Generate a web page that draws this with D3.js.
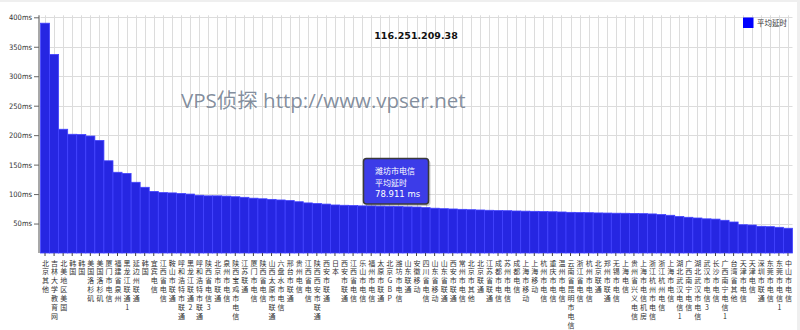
<!DOCTYPE html>
<html><head><meta charset="utf-8">
<script src="https://cdn.jsdelivr.net/npm/d3@7"></script>
<style>
html,body{margin:0;padding:0;background:#fff;}
svg{display:block;}
</style></head>
<body>
<svg id="chart" width="800" height="330"></svg>
<script>
const title = "116.251.209.38";
const seriesName = "平均延时";
const watermark = "VPS侦探 http://www.vpser.net";
const categories = [
"北京其他","吉林大学教育网","北美地区美国","韩国","韩国","美国洛杉矶","美国洛杉矶","厦门市电信","福建省泉州","黑龙江联通1",
"延边州联通","韩国","宜宾电信","江西省电信","鞍山市联通","呼和浩特市联通","黑龙江联通2","呼和浩特市联通",
"陕西省电信3","北京市联通","泉州市电信","陕西宝鸡市电信","江苏联通","厦门市电信","陕西省电信","山西太原市联通","六盘水市电信","邢台市联通",
"贵州电信","江西省电信","陕西西安市联通","西安市联通","日本","西安市联通","江西省电信","乐山市电信","福州市电信","太原市联通","北京GBP","潍坊市电信",
"山东联通","安徽移动","四川省电信","山东省移动","山东省联通","西安市联通","常州市电信","北京市其他","北京联通","江苏省联通",
"成都市电信","苏州市电信","成都电信","上海市移动","上海移动","杭州市电信","重庆市电信","温州市电信","云南省昆明市电信","浙江省电信","杭州市电信","北京联通",
"郑州市联通","无锡市电信","上海电信","贵州省兴义电信","上海市电信机房","浙江杭州市电信","浙江杭州电信","上海市电信","湖北武汉电信1","广西南宁电信",
"湖北武汉市电信","武汉市电信3","长沙市电信","广西南宁电信1","台湾省其他","天津市电信","天津电信","深圳市联通","东莞市电信","东莞市电信1","中山市电信"
];
const latency = [
390,337,210,201.5,201,198.5,191,156.5,137,135,
120,111.5,104.5,102.5,102,101,100,98,
97,97,96.5,95.5,94.5,93,92,91,90,89,
87,85,84,83,81.5,81,80.5,80,79.8,79.5,79.2,78.911,
78.3,78,77,76,75.2,74.7,74.1,73.5,73,72.5,
72,71.8,71.3,71,70.7,70.3,70,69.6,69,68.6,68.4,68,
67.8,67.5,67.4,67.2,66.8,66.3,65.2,64,62,60.6,
59.4,58,57.5,55.5,52.6,48,47.5,45.3,44.7,43.6,42
];
const yTicks = [50,100,150,200,250,300,350,400];
const tooltipIndex = 39;

const svg = d3.select("#chart");
const W = 800, H = 330;
const pLeft = 40.5, pRight = 792.5, pTop = 17.3, pBottom = 253;

// frame strips
svg.append("rect").attr("x",0).attr("y",0).attr("width",W).attr("height",2).attr("fill","#efefef");
svg.append("rect").attr("x",W-3).attr("y",0).attr("width",3).attr("height",H).attr("fill","#efefef");

const x = d3.scaleBand().domain(d3.range(categories.length)).range([pLeft, pRight]).padding(0);
const y = d3.scaleLinear().domain([0,400]).range([pBottom, pTop]);

// grid
const grid = svg.append("g");
grid.selectAll("line.h").data(yTicks).join("line")
  .attr("x1", pLeft).attr("x2", pRight)
  .attr("y1", d=>Math.round(y(d))+0.5).attr("y2", d=>Math.round(y(d))+0.5)
  .attr("stroke","#dcdcdc").attr("stroke-width",1);
grid.selectAll("line.v").data(d3.range(categories.length)).join("line")
  .attr("x1", d=>Math.round(x(d)+x.bandwidth()/2)+0.5).attr("x2", d=>Math.round(x(d)+x.bandwidth()/2)+0.5)
  .attr("y1", pTop-2).attr("y2", pBottom)
  .attr("stroke","#dcdcdc").attr("stroke-width",1);

// watermark
svg.append("text").attr("x", 181).attr("y", 108)
  .attr("font-family","'Open Sans','Noto Sans','Noto Sans CJK SC',sans-serif")
  .attr("font-size", 20.5).attr("fill","#7c8898").attr("fill-opacity",0.95)
  .text(watermark);

// bars
svg.append("g").selectAll("rect").data(latency).join("rect")
  .attr("x", (d,i)=>x(i)).attr("width", x.bandwidth())
  .attr("y", d=>y(d)).attr("height", d=>pBottom - y(d))
  .attr("fill","#2626e2").attr("stroke","#4242ff").attr("stroke-width",0.8);

// y axis
const yAxis = d3.axisLeft(y).tickValues(yTicks).tickFormat(d=>d+"ms").tickSize(5).tickPadding(2);
const gy = svg.append("g").attr("transform",`translate(${pLeft-1.5},0)`).call(yAxis);
gy.select(".domain").attr("stroke","#a8a8a8").attr("stroke-width",2).attr("d",`M0,${pTop-2}V${pBottom}`);
gy.selectAll(".tick line").attr("stroke","#666");
gy.selectAll(".tick text").attr("font-family","Tahoma,'DejaVu Sans Condensed','Liberation Sans',sans-serif")
  .attr("font-size",7.5).attr("fill","#333");

// x axis
const xAxis = d3.axisBottom(x).tickSize(3).tickFormat("");
const gx = svg.append("g").attr("transform",`translate(0,${pBottom})`).call(xAxis);
gx.select(".domain").remove();
gx.selectAll(".tick line").attr("stroke","#444");
const lab = svg.append("g").attr("font-family","'Noto Sans CJK SC',sans-serif").attr("font-size",7).attr("fill","#333").attr("text-anchor","middle");
categories.forEach((c,i)=>{
  const cx = x(i)+x.bandwidth()/2+0.5;
  const t = lab.append("text").attr("x", cx).attr("y", 265.5);
  Array.from(c).forEach((ch,k)=>{
    t.append("tspan").attr("x", cx).attr("y", 265.5 + k*8.9).text(ch);
  });
});

// title
svg.append("text").attr("x", 416).attr("y", 38.5).attr("text-anchor","middle")
  .attr("font-family","Tahoma,'DejaVu Sans','Liberation Sans',sans-serif").attr("font-weight","bold")
  .attr("font-size",9.5).attr("fill","#111").text(title);

// legend
svg.append("rect").attr("x",743).attr("y",17.5).attr("width",10.5).attr("height",10.5).attr("fill","#0000ff");
svg.append("text").attr("x",757).attr("y",26).attr("font-family","'Noto Sans CJK SC',sans-serif")
  .attr("font-size",7.5).attr("fill","#333").text(seriesName);

// tooltip
const tipX = 363.5, tipY = 158.5, tipW = 65, tipH = 45.5;
svg.append("rect").attr("x",tipX+2).attr("y",tipY+2).attr("width",tipW).attr("height",tipH).attr("rx",3)
  .attr("fill","#000").attr("fill-opacity",0.2);
svg.append("rect").attr("x",tipX).attr("y",tipY).attr("width",tipW).attr("height",tipH).attr("rx",3)
  .attr("fill","#3c3ce8").attr("stroke","#3a3a3a").attr("stroke-width",1.5);
const tip = svg.append("g").attr("font-family","'Noto Sans CJK SC',sans-serif").attr("font-size",8).attr("fill","#fff");
tip.append("text").attr("x",375).attr("y",174).text(categories[tooltipIndex]);
tip.append("text").attr("x",375).attr("y",185.5).text(seriesName);
tip.append("text").attr("x",375).attr("y",196.5).attr("font-family","Tahoma,'DejaVu Sans','Liberation Sans',sans-serif").attr("font-size",8.5).text(d3.format(".3f")(latency[tooltipIndex])+" ms");
</script>
</body></html>
